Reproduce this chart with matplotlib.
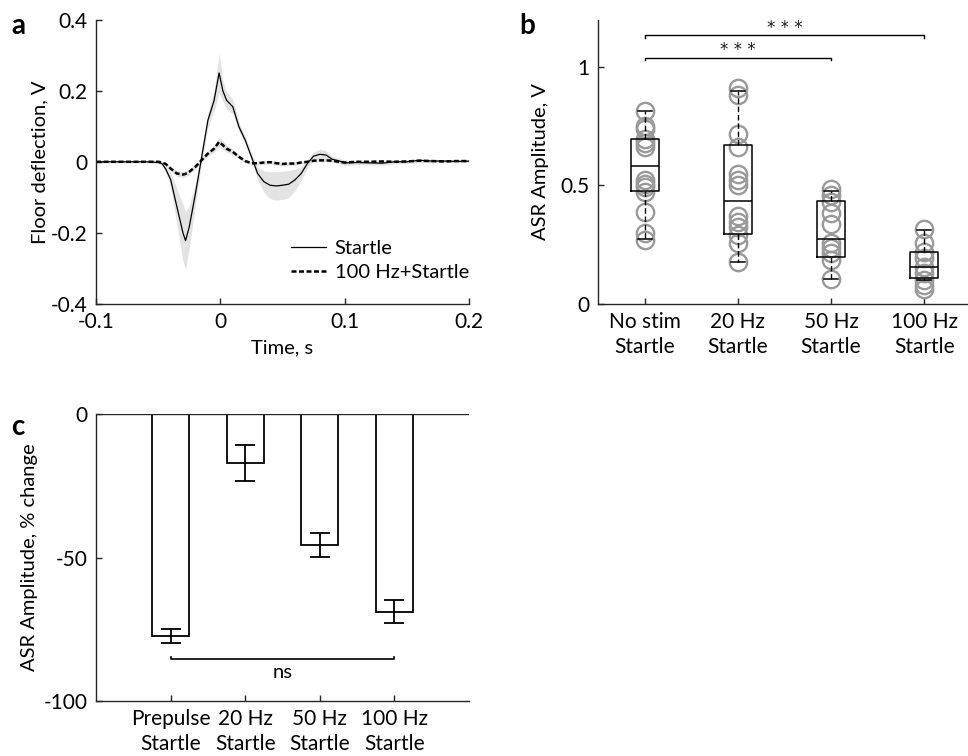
import numpy as np
import matplotlib
matplotlib.use('Agg')
import matplotlib.pyplot as plt

plt.rcParams['font.family'] = ['Lato', 'DejaVu Sans']
plt.rcParams['axes.unicode_minus'] = False
plt.rcParams['font.size'] = 14

# ---- panel a: floor deflection traces
t = [-0.1, -0.06, -0.05, -0.047, -0.044, -0.04, -0.035, -0.03, -0.028, -0.025, -0.02, -0.015,
     -0.01, -0.005, -0.001, 0.002, 0.005, 0.01, 0.015, 0.02, 0.025, 0.03, 0.035, 0.04,
     0.045, 0.05, 0.055, 0.06, 0.065, 0.07, 0.075, 0.08, 0.085, 0.09, 0.095, 0.1,
     0.11, 0.12, 0.13, 0.14, 0.15, 0.16, 0.17, 0.18, 0.19, 0.2]
startle = [0.0, 0.0, -0.002, -0.005, -0.02, -0.05, -0.126, -0.201, -0.222, -0.183, -0.089, 0.014,
           0.117, 0.173, 0.25, 0.2, 0.173, 0.155, 0.098, 0.061, 0.014, -0.033, -0.056, -0.066,
           -0.068, -0.066, -0.063, -0.051, -0.033, -0.005, 0.016, 0.021, 0.019, 0.007, 0.003, -0.003,
           -0.002, -0.003, -0.004, 0.0, 0.0, 0.004, 0.002, 0.002, 0.001, 0.002]
startle_sem = [0.003, 0.003, 0.003, 0.005, 0.01, 0.02, 0.05, 0.08, 0.08, 0.06, 0.03, 0.02,
               0.02, 0.03, 0.055, 0.03, 0.025, 0.02, 0.012, 0.01, 0.012, 0.018, 0.03, 0.038,
               0.04, 0.04, 0.038, 0.03, 0.02, 0.012, 0.012, 0.014, 0.012, 0.008, 0.008, 0.008,
               0.006, 0.006, 0.006, 0.006, 0.005, 0.005, 0.005, 0.004, 0.004, 0.004]
pp = [0.0, 0.0, 0.0, -0.002, -0.006, -0.019, -0.033, -0.036, -0.034, -0.028, -0.014, 0.005,
      0.023, 0.037, 0.056, 0.047, 0.037, 0.028, 0.014, 0.002, -0.004, -0.004, -0.002, -0.001,
      -0.004, -0.006, -0.005, -0.005, -0.002, 0.0, 0.003, 0.004, 0.004, 0.003, 0.0, -0.002,
      0.0, 0.0, 0.001, 0.0, 0.001, 0.003, 0.002, 0.001, 0.002, 0.002]
pp_sem = [0.002, 0.002, 0.002, 0.003, 0.004, 0.006, 0.008, 0.008, 0.008, 0.007, 0.006, 0.006,
          0.008, 0.01, 0.014, 0.012, 0.01, 0.008, 0.006, 0.005, 0.005, 0.005, 0.005, 0.005,
          0.005, 0.005, 0.005, 0.005, 0.004, 0.004, 0.004, 0.004, 0.004, 0.004, 0.004, 0.004,
          0.003, 0.003, 0.003, 0.003, 0.003, 0.003, 0.003, 0.003, 0.003, 0.003]

# ---- panel b: ASR amplitude per animal
b_cats = ['No stim\nStartle', '20 Hz\nStartle', '50 Hz\nStartle', '100 Hz\nStartle']
amp_nostim = [0.813, 0.75, 0.74, 0.698, 0.68, 0.663, 0.522, 0.508, 0.494, 0.473, 0.389, 0.298, 0.27]
amp_20 = [0.913, 0.881, 0.716, 0.663, 0.548, 0.525, 0.501, 0.371, 0.347, 0.326, 0.291, 0.256, 0.176]
amp_50 = [0.485, 0.459, 0.431, 0.385, 0.337, 0.256, 0.235, 0.213, 0.185, 0.104]
amp_100 = [0.315, 0.258, 0.22, 0.192, 0.157, 0.129, 0.101, 0.08, 0.062]
box_q1 = [0.476, 0.295, 0.199, 0.108]
box_med = [0.583, 0.434, 0.274, 0.154]
box_q3 = [0.698, 0.670, 0.434, 0.218]
whis_lo = [0.274, 0.176, 0.104, 0.101]
whis_hi = [0.813, 0.899, 0.478, 0.312]
sig_pairs = [(1, 3), (1, 4)]
sig_y = [1.04, 1.136]
sig_text = ['* * *', '* * *']

# ---- panel c: % change
c_cats = ['Prepulse\nStartle', '20 Hz\nStartle', '50 Hz\nStartle', '100 Hz\nStartle']
pct_change = [-77.5, -17.0, -45.7, -69.0]
pct_sem = [2.5, 6.4, 4.1, 4.0]

dark = '#262626'
fig = plt.figure(figsize=(9.68, 7.56), dpi=100)

def style(ax):
    for s in ['top', 'right']:
        ax.spines[s].set_visible(False)
    for s in ['left', 'bottom']:
        ax.spines[s].set_color(dark)
        ax.spines[s].set_linewidth(1.0)
    ax.tick_params(direction='in', length=4, width=1.0, color=dark, labelsize=15, pad=6)

# a
ax = fig.add_axes([0.0992, 0.598, 0.3853, 0.376])
style(ax)
lo = np.array(startle) - np.array(startle_sem)
hi = np.array(startle) + np.array(startle_sem)
ax.fill_between(t, lo, hi, color='#e3e3e3', lw=0)
lo = np.array(pp) - np.array(pp_sem)
hi = np.array(pp) + np.array(pp_sem)
ax.fill_between(t, lo, hi, color='#e3e3e3', lw=0)
ax.plot(t, startle, color='k', lw=0.9, label='Startle')
ax.plot(t, pp, color='k', lw=1.8, ls=(0, (2, 1)), label='100 Hz+Startle')
ax.set_xlim(-0.1, 0.2)
ax.set_ylim(-0.4, 0.4)
ax.set_xticks([-0.1, 0, 0.1, 0.2], ['-0.1', '0', '0.1', '0.2'])
ax.set_yticks([-0.4, -0.2, 0, 0.2, 0.4], ['-0.4', '-0.2', '0', '0.2', '0.4'])
ax.set_xlabel('Time, s', fontsize=14.5, labelpad=5)
ax.set_ylabel('Floor deflection, V', fontsize=14.5, labelpad=2)
ax.legend(loc='lower right', frameon=False, fontsize=14.5, handlelength=1.7,
          handletextpad=0.45, borderaxespad=0, borderpad=0, labelspacing=0.35,
          bbox_to_anchor=(1.0, 0.08))
fig.text(0.012, 0.955, 'a', fontsize=20, fontweight='bold')

# b
ax = fig.add_axes([0.6178, 0.598, 0.3822, 0.376])
style(ax)
groups = [amp_nostim, amp_20, amp_50, amp_100]
for i, g in enumerate(groups):
    ax.plot([i + 1] * len(g), g, 'o', ms=12.5, mfc='none', mec='#9a9a9a', mew=1.7, zorder=2)
stats = []
for i in range(4):
    stats.append({'med': box_med[i], 'q1': box_q1[i], 'q3': box_q3[i],
                  'whislo': whis_lo[i], 'whishi': whis_hi[i], 'fliers': []})
ax.bxp(stats, positions=[1, 2, 3, 4], widths=0.3, capwidths=0.15, showfliers=False,
       boxprops=dict(color='k', lw=1.1), medianprops=dict(color='k', lw=1.1),
       whiskerprops=dict(color='k', lw=1.0, ls=(0, (4, 2))), capprops=dict(color='k', lw=1.1),
       manage_ticks=False, zorder=3)
for (x1, x2), y, s in zip(sig_pairs, sig_y, sig_text):
    ax.plot([x1, x1, x2, x2], [y - 0.012, y, y, y - 0.012], color='k', lw=1.0, clip_on=False)
    ax.text((x1 + x2) / 2, y + 0.03, s, ha='center', va='center', fontsize=12,
            family=['DejaVu Sans'], color='#1a1a1a')
ax.set_xlim(0.5, 4.47)
ax.set_ylim(0, 1.2)
ax.set_xticks([1, 2, 3, 4], b_cats)
for lab in ax.get_xticklabels():
    lab.set_linespacing(1.3)
ax.set_yticks([0, 0.5, 1], ['0', '0.5', '1'])
ax.set_ylabel('ASR Amplitude, V', fontsize=14.5, labelpad=8)
fig.text(0.536, 0.955, 'b', fontsize=20, fontweight='bold')

# c
ax = fig.add_axes([0.0992, 0.0731, 0.3853, 0.3789])
style(ax)
xc = np.arange(1, 5)
ax.bar(xc, pct_change, width=0.5, facecolor='white', edgecolor='k', lw=1.3, zorder=2)
ax.errorbar(xc, pct_change, yerr=pct_sem, fmt='none', ecolor='k', elinewidth=1.3,
            capsize=7, capthick=1.3, zorder=3)
ax.axhline(0, color=dark, lw=1.0)
ax.plot([1, 1, 4, 4], [-84.6, -85.6, -85.6, -84.6], color='k', lw=1.2)
ax.text(2.5, -87.3, 'ns', ha='center', va='top', fontsize=14.5)
ax.set_xlim(0, 5)
ax.set_ylim(-100, 0)
ax.set_xticks(xc, c_cats)
for lab in ax.get_xticklabels():
    lab.set_linespacing(1.3)
ax.set_yticks([-100, -50, 0], ['-100', '-50', '0'])
ax.set_ylabel('ASR Amplitude, % change', fontsize=14.5, labelpad=4)
fig.text(0.012, 0.425, 'c', fontsize=20, fontweight='bold')

fig.savefig('out.png', dpi=100)
